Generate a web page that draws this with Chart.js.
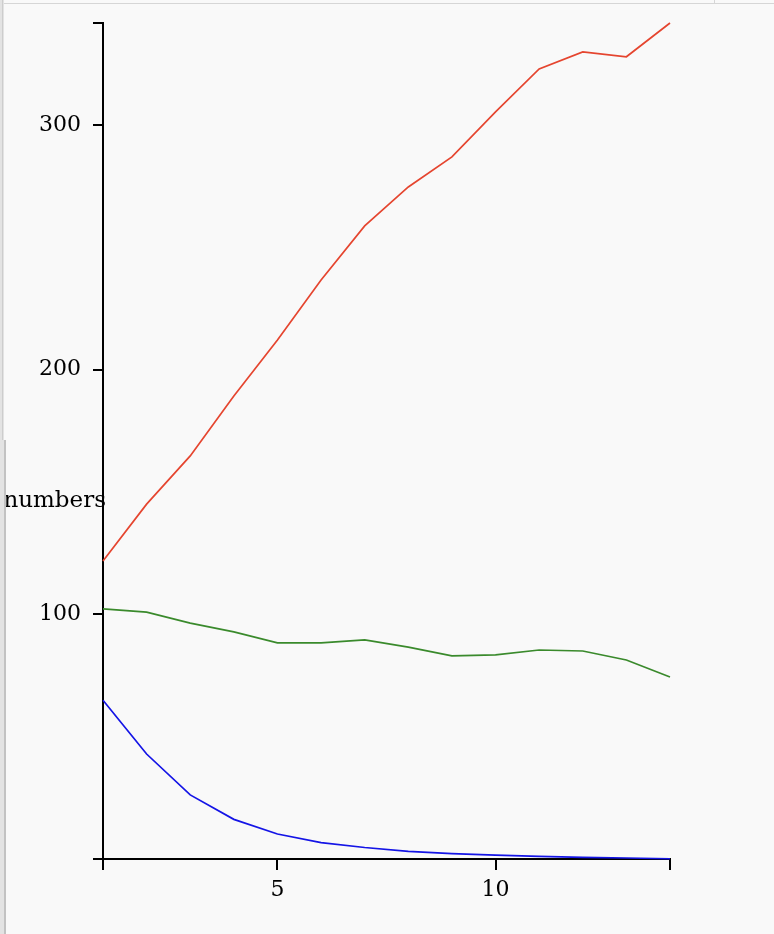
<!DOCTYPE html>
<html>
<head>
<meta charset="utf-8">
<script src="https://cdn.jsdelivr.net/npm/chart.js@4.4.1/dist/chart.umd.min.js"></script>
<style>
  html, body { margin: 0; padding: 0; background: #f9f9f9; }
  #wrap { position: relative; width: 774px; height: 934px; overflow: hidden; }
  #chart { position: absolute; left: 0; top: 0; }
  .edge { position: absolute; z-index: 2; }
</style>
</head>
<body>
<div id="wrap">
  <canvas id="chart" width="774" height="934"></canvas>
  <!-- frame bits of the page round the chart -->
  <div class="edge" style="left:0;top:3px;width:774px;height:1px;background:#d6d6d6"></div>
  <div class="edge" style="left:0;top:0;width:4px;height:934px;background:#e3e3e3"></div>
  <div class="edge" style="left:2px;top:0;width:1px;height:440px;background:#cdcdcd"></div>
  <div class="edge" style="left:4px;top:440px;width:2px;height:494px;background:#c2c2c2"></div>
  <div class="edge" style="left:714px;top:0;width:1px;height:3px;background:#d6d6d6"></div>
</div>

<script>
// =====================
// DATA
// =====================

const steps = [1, 2, 3, 4, 5, 6, 7, 8, 9, 10, 11, 12, 13, 14];

const redValues   = [121.8, 145, 164.7, 189.2, 212.1, 236.6, 258.7, 274.6, 286.9, 305.3, 322.8, 329.8, 327.8, 341.6];
const greenValues = [102.2, 100.9, 96.4, 92.8, 88.3, 88.3, 89.5, 86.6, 83.0, 83.4, 85.4, 85.0, 81.3, 74.4];
const blueValues  = [64.9, 42.9, 26.2, 16.2, 10.2, 6.7, 4.7, 3.1, 2.2, 1.6, 1.1, 0.7, 0.4, 0.1];

const xTickLabels = [5, 10];
const yTickLabels = [100, 200, 300];
const yLabel = "numbers";

const FONT = "'DejaVu Serif', serif";

// =====================
// HELPERS
// =====================

const toPoints = vals => vals.map((v, i) => ({ x: steps[i], y: v }));

const xMin = steps[0];
const xMax = steps[steps.length - 1];
const yMax = Math.max(...redValues, ...greenValues, ...blueValues);

function line(values, color) {
  return {
    data: toPoints(values),
    borderColor: color,
    borderWidth: 1.7,
    pointRadius: 0,
    tension: 0,
    fill: false,
    clip: false
  };
}

// y label sits flat, left of the axis
const axisLabel = {
  id: "axisLabel",
  afterDraw(chart) {
    const ctx = chart.ctx;
    ctx.save();
    ctx.font = "23px " + FONT;
    ctx.fillStyle = "#000";
    ctx.textAlign = "right";
    ctx.textBaseline = "alphabetic";
    ctx.fillText(yLabel, 106, 507);
    ctx.restore();
  }
};

// =====================
// CHART
// =====================

new Chart(document.getElementById("chart"), {
  type: "line",
  data: {
    datasets: [
      line(redValues, "#e5452f"),
      line(greenValues, "#3a8a2c"),
      line(blueValues, "#1414e6")
    ]
  },
  options: {
    responsive: false,
    animation: false,
    events: [],
    layout: { padding: { left: 0, top: 23, right: 104, bottom: 0 } },
    plugins: { legend: { display: false }, tooltip: { enabled: false } },
    scales: {
      x: {
        type: "linear",
        min: xMin,
        max: xMax,
        afterBuildTicks: s => { s.ticks = [xMin, ...xTickLabels, xMax].map(v => ({ value: v })); },
        afterFit: s => { s.height = 75; s.paddingLeft = 0; s.paddingRight = 0; },
        ticks: {
          autoSkip: false,
          maxRotation: 0,
          padding: 7,
          color: "#000",
          font: { family: FONT, size: 22 },
          callback: v => (xTickLabels.includes(v) ? String(v) : "")
        },
        grid: { drawOnChartArea: false, drawTicks: true, tickLength: 11, color: "#000", lineWidth: 2 },
        border: { display: true, color: "#000", width: 2 }
      },
      y: {
        type: "linear",
        min: 0,
        max: yMax,
        afterBuildTicks: s => { s.ticks = [0, ...yTickLabels, yMax].map(v => ({ value: v })); },
        afterFit: s => { s.width = 103; s.paddingTop = 0; s.paddingBottom = 0; },
        ticks: {
          autoSkip: false,
          padding: 12,
          color: "#000",
          font: { family: FONT, size: 22 },
          callback: v => (yTickLabels.includes(v) ? String(v) : "")
        },
        grid: { drawOnChartArea: false, drawTicks: true, tickLength: 10, color: "#000", lineWidth: 2 },
        border: { display: true, color: "#000", width: 2 }
      }
    }
  },
  plugins: [axisLabel]
});
</script>
</body>
</html>
